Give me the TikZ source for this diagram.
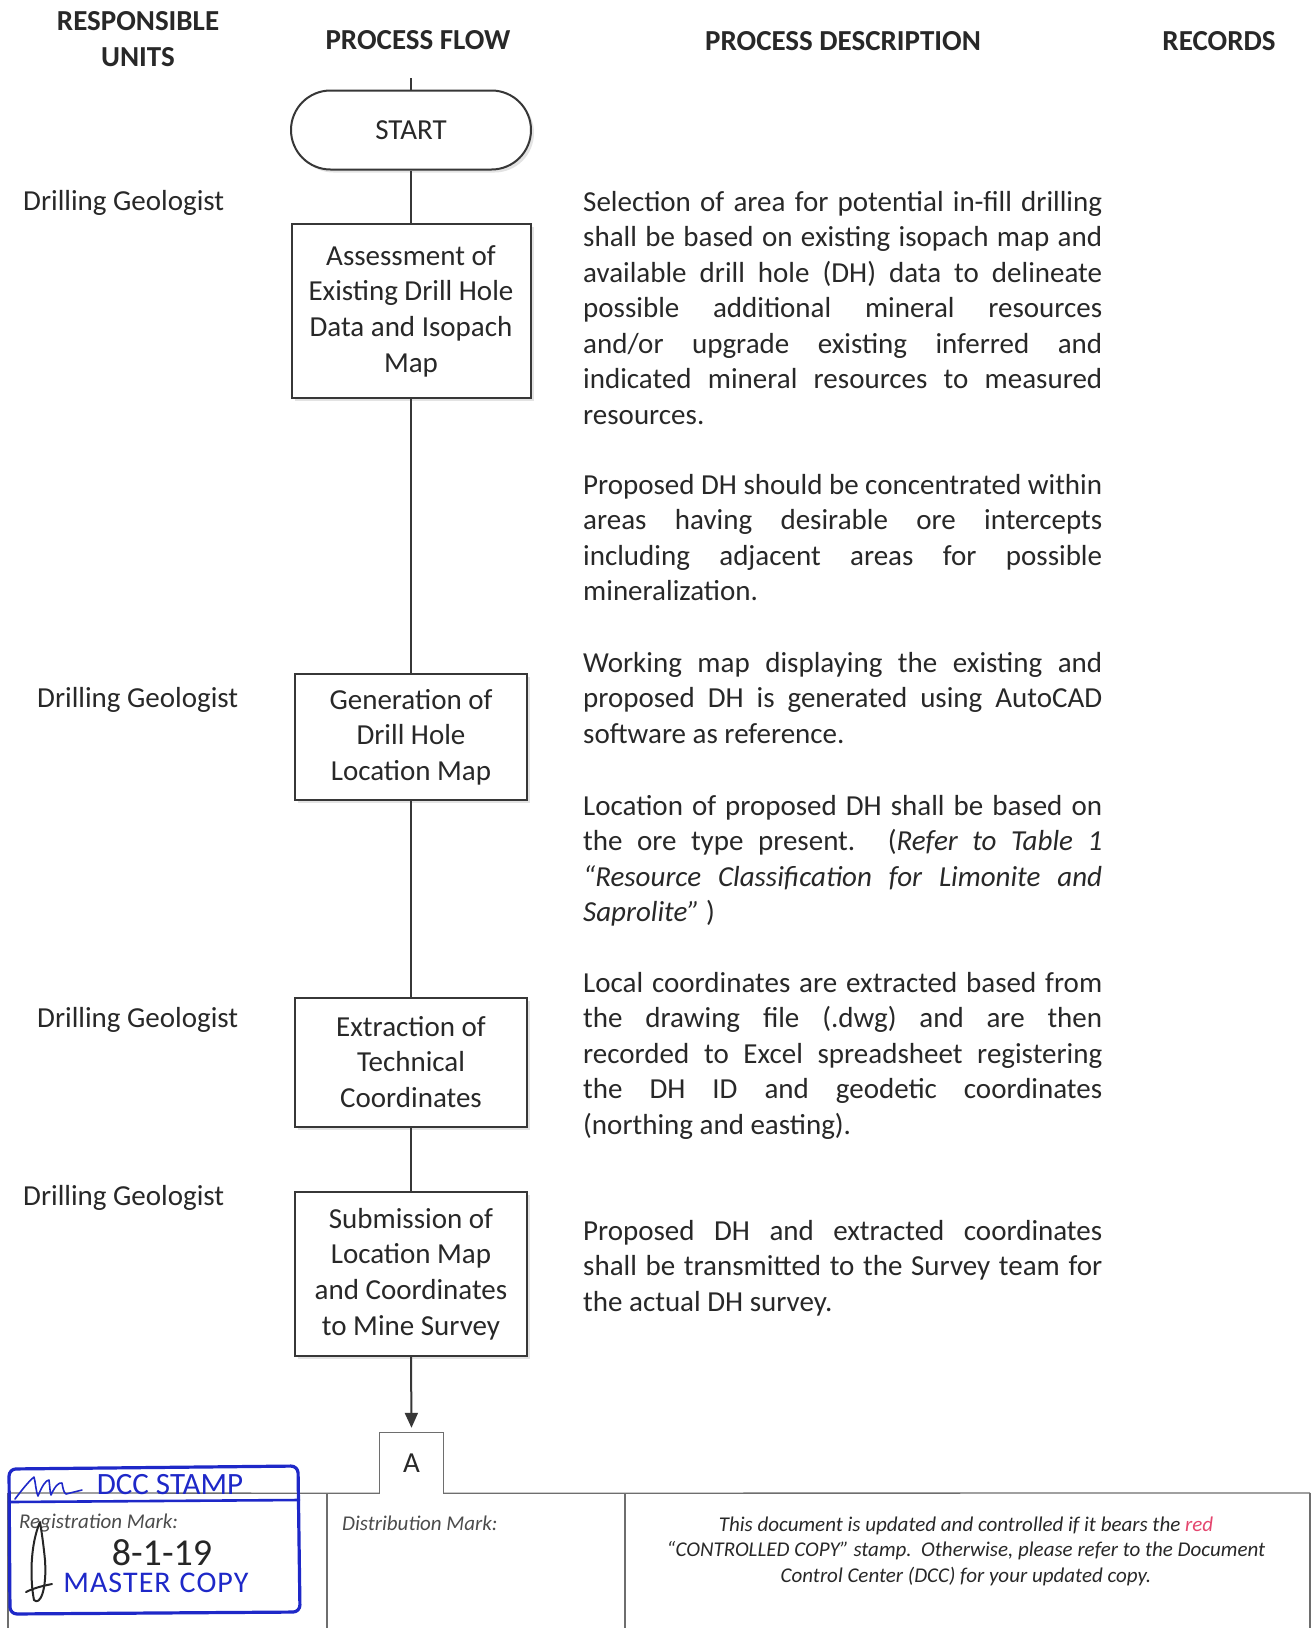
\documentclass[tikz,border=0pt]{standalone}
\usepackage{fontspec}
\setmainfont{Carlito}
\usetikzlibrary{shapes.misc,arrows.meta,shadows}
\definecolor{ink}{RGB}{40,40,40}
\definecolor{linegray}{RGB}{55,55,55}
\definecolor{framegray}{RGB}{110,110,110}
\definecolor{stampblue}{RGB}{30,40,200}
\definecolor{redword}{RGB}{228,70,110}
\begin{document}
\begin{tikzpicture}[x=1pt,y=-1pt,
  every node/.style={text=ink},
  hdr/.style={font=\fontsize{29}{36.5}\selectfont\bfseries, align=center, inner sep=0pt},
  unit/.style={font=\fontsize{29}{34}\selectfont, anchor=west, inner sep=0pt},
  desc/.style={anchor=north west, text width=519pt, align=justify, inner sep=0pt,
    font=\fontsize{29}{35.5}\selectfont},
  procbox/.style={draw=linegray, line width=2pt, fill=white, align=center, inner sep=0pt,
    font=\fontsize{29}{35.6}\selectfont,
    drop shadow={opacity=0.22, shadow xshift=3pt, shadow yshift=-3pt}},
  termbox/.style={procbox, rounded rectangle},
  flow/.style={draw=linegray, line width=2pt},
  frame/.style={draw=framegray, line width=1.3pt},
  smallit/.style={font=\fontsize{21}{25.4}\selectfont\itshape, inner sep=0pt},
  stampline/.style={draw=stampblue, line width=3.2pt, line cap=round, line join=round},
  inkline/.style={draw=black!85, line width=2pt, line cap=round, line join=round}
]
\useasboundingbox[fill=white] (0,0) rectangle (1314,1628);

% headers
\node[hdr] (h1) at (138,39) {RESPONSIBLE\\UNITS};
\node[hdr] (h2) at (418,40) {PROCESS FLOW};
\node[hdr] (h3) at (843,41) {PROCESS DESCRIPTION};
\node[hdr] (h4) at (1219,41) {RECORDS};

% responsible units
\node[unit] (u1) at (23,203) {Drilling Geologist};
\node[unit] (u2) at (37,700) {Drilling Geologist};
\node[unit] (u3) at (37,1020) {Drilling Geologist};
\node[unit] (u4) at (23,1198) {Drilling Geologist};

% process flow
\coordinate (top) at (411,78);
\node[termbox, minimum width=240pt, minimum height=79pt] (start) at (411,130) {START};
\node[procbox, minimum width=239pt, minimum height=174pt] (b1) at (411,311)
  {Assessment of\\Existing Drill Hole\\Data and Isopach\\Map};
\node[procbox, minimum width=232pt, minimum height=126pt] (b2) at (411,737)
  {Generation of\\Drill Hole\\Location Map};
\node[procbox, minimum width=232pt, minimum height=129pt] (b3) at (411,1062)
  {Extraction of\\Technical\\Coordinates};
\node[procbox, minimum width=232pt, minimum height=164pt] (b4) at (411,1274)
  {Submission of\\Location Map\\and Coordinates\\to Mine Survey};
\node[minimum width=63pt, minimum height=60pt, inner sep=0pt,
      font=\fontsize{29}{34}\selectfont] (A) at (411.5,1463) {A};

\draw[flow] (top) -- (start.north);
\draw[flow] (start.south) -- (b1.north);
\draw[flow] (b1.south) -- (b2.north);
\draw[flow] (b2.south) -- (b3.north);
\draw[flow] (b3.south) -- (b4.north);
\draw[flow, -{Triangle[length=15pt,width=13pt]}] (b4.south) -- ([yshift=5pt]A.north);

% descriptions
\node[desc] (d1) at (583,186) {\strut Selection of area for potential in-fill drilling\linebreak
shall be based on existing isopach map and\linebreak
available drill hole (DH) data to delineate\linebreak
possible additional mineral resources\linebreak
and/or upgrade existing inferred and\linebreak
indicated mineral resources to measured\linebreak
resources.};
\node[desc] (d2) at (583,469) {\strut Proposed DH should be concentrated within\linebreak
areas having desirable ore intercepts\linebreak
including adjacent areas for possible\linebreak
mineralization.};
\node[desc] (d3) at (583,647) {\strut Working map displaying the existing and\linebreak
proposed DH is generated using AutoCAD\linebreak
software as reference.};
\node[desc] (d4) at (583,790) {\strut Location of proposed DH shall be based on\linebreak
the ore type present. (\textit{Refer to Table 1}\linebreak
\textit{“Resource Classification for Limonite and}\linebreak
\textit{Saprolite”} )};
\node[desc] (d5) at (583,967) {\strut Local coordinates are extracted based from\linebreak
the drawing file (.dwg) and are then\linebreak
recorded to Excel spreadsheet registering\linebreak
the DH ID and geodetic coordinates\linebreak
(northing and easting).};
\node[desc] (d6) at (583,1215) {\strut Proposed DH and extracted coordinates\linebreak
shall be transmitted to the Survey team for\linebreak
the actual DH survey.};

% footer frame
\coordinate (fl) at (8,1493);
\coordinate (fr) at (1310,1493);
\coordinate (fl2) at (8,1628);
\coordinate (fr2) at (1310,1628);
\coordinate (dv1) at (327,1493);
\coordinate (dv1b) at (327,1628);
\coordinate (dv2) at (625,1493);
\coordinate (dv2b) at (625,1628);
\draw[frame] (fl) -- (A.south west);
\draw[frame] (A.south east) -- (fr);
\draw[frame] (A.south west) -- (A.north west) -- (A.north east) -- (A.south east);
\draw[frame] (fl) -- (fl2);
\draw[frame] (fr) -- (fr2);
\draw[frame] (dv1) -- (dv1b);
\draw[frame] (dv2) -- (dv2b);

\node[smallit, anchor=west, text=black!70] (reg) at (19,1523) {Registration Mark:};
\node[smallit, anchor=west, text=black!70] (dist) at (342,1523) {Distribution Mark:};
\node[smallit, align=center] (note) at (966,1551)
  {This document is updated and controlled if it bears the \textcolor{redword}{red}\\
   “CONTROLLED COPY” stamp.\ \ Otherwise, please refer to the Document\\
   Control Center (DCC) for your updated copy.};

% DCC stamp
\draw[stampline, rounded corners=7pt] (9,1469) -- (298,1466) -- (300,1612) -- (10,1614) -- cycle;
\draw[stampline, line width=2.6pt] (9,1502) -- (299,1500);
\node[text=stampblue, font=\fontsize{31}{32}\selectfont, inner sep=0pt] (dcc) at (170,1485) {DCC STAMP};
\draw[stampline, line width=1.6pt] (15,1499) .. controls (22,1490) and (28,1482) .. (34,1477)
  .. controls (36,1485) and (36,1492) .. (38,1496)
  .. controls (42,1486) and (46,1480) .. (49,1480)
  .. controls (50,1488) and (50,1492) .. (51,1495)
  .. controls (55,1486) and (59,1482) .. (62,1483)
  .. controls (63,1489) and (64,1493) .. (66,1494) -- (82,1490);
\node[text=stampblue, font=\fontsize{30}{32}\selectfont, inner sep=0pt] (master) at (156,1583)
  {M\kern1pt A\kern1pt S\kern1pt T\kern1pt E\kern1pt R\kern2pt\ C\kern1pt O\kern1pt P\kern1pt Y};
\node[text=black!85, font=\fontsize{38}{38}\selectfont, inner sep=0pt] (date) at (162,1553) {8-1-19};
\draw[inkline] (40,1522) .. controls (30,1545) and (30,1580) .. (34,1600)
  .. controls (40,1606) and (47,1590) .. (45,1560)
  .. controls (43,1540) and (41,1528) .. (40,1522);
\draw[inkline] (26,1592) .. controls (34,1588) and (42,1586) .. (52,1584);
\end{tikzpicture}
\end{document}
